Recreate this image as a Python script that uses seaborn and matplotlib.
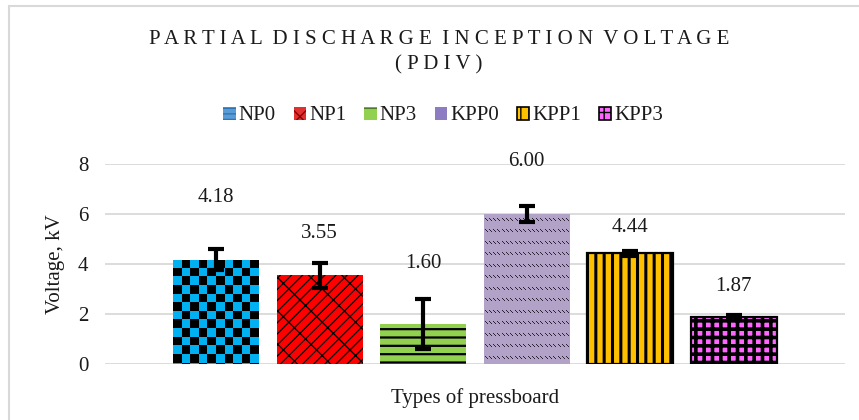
import numpy as np
import pandas as pd
import matplotlib
matplotlib.use('Agg')
import matplotlib.pyplot as plt
import seaborn as sns
from matplotlib.colors import ListedColormap, to_rgba
from matplotlib.patches import Patch, Rectangle

# ─── Data ─────────────────────────────────────────────────────────────────────
series   = ['NP0', 'NP1', 'NP3', 'KPP0', 'KPP1', 'KPP3']
pdiv_kv  = [4.18, 3.55, 1.60, 6.00, 4.44, 1.87]
pdiv_err = [0.43, 0.50, 1.00, 0.33, 0.10, 0.10]

# ─── Style ────────────────────────────────────────────────────────────────────
colors   = ['#00B0F0', '#FF0000', '#92D050', '#B3A2C7', '#FFC000', '#FF66FF']
hatches  = [None, '///\\', '--', None, '||', '++']
hatch_lw = [1.0, 0.9, 1.6, 0.8, 2.2, 2.6]
hatch_c  = ['black', 'black', 'black', 'black', 'black', 'black']
outline  = [0, 0, 0, 0, 1.6, 1.6]
label_off_px = [62, 42, 61, 52, 26, 31]
FS = 15

sns.set_theme(style='white')
plt.rcParams['font.family'] = ['Liberation Serif', 'DejaVu Serif']
plt.rcParams['hatch.linewidth'] = 1.0

df = pd.DataFrame({'series': series, 'kv': pdiv_kv})

fig = plt.figure(figsize=(8.59, 4.2), dpi=100)
ax = fig.add_axes([105/859, 1-364/420, 740/859, 200/420])

sns.barplot(data=df, x='series', y='kv', hue='series', order=series,
            palette=colors, saturation=1, width=0.83, legend=False, ax=ax)

for p, h, hl, hc, ol in zip(ax.patches, hatches, hatch_lw, hatch_c, outline):
    p.set_edgecolor(hc)
    p.set_linewidth(ol)
    if h:
        p.set_hatch(h)
        if hasattr(p, 'set_hatch_linewidth'):
            p.set_hatch_linewidth(hl)

px_per_unit = 25.0  # 200 px for 8 kV

# checkerboard texture for NP0
p0 = ax.patches[0]
x0, w, h0 = p0.get_x(), p0.get_width(), p0.get_height()
cell_h = 8.6 / px_per_unit
nrows = int(np.ceil(h0 / cell_h)) + 1
ii, jj = np.indices((nrows, 10))
checker = (ii + jj) % 2
img = ax.imshow(checker, cmap=ListedColormap(['#00B0F0', 'black']),
                extent=(x0, x0 + w, h0 - nrows * cell_h, h0), origin='upper',
                aspect='auto', interpolation='nearest', zorder=p0.get_zorder() + 0.1)
img.set_clip_path(p0)

# small dashed-diagonal texture for KPP0
p3 = ax.patches[3]
x3, w3, h3 = p3.get_x(), p3.get_width(), p3.get_height()
W, H = 86, int(round(h3 * px_per_unit))
tex = np.zeros((H, W, 4))
dark = to_rgba('#2B2235')
for r in np.arange(4, H - 3, 11.5).astype(int):
    for c in np.arange(1, W - 3, 4.3).astype(int):
        for d in range(3):
            tex[r + d, c + d] = dark
img3 = ax.imshow(tex, extent=(x3, x3 + w3, 0, h3), origin='upper', aspect='auto',
                 interpolation='nearest', zorder=p3.get_zorder() + 0.1)
img3.set_clip_path(p3)

centers = [p.get_x() + p.get_width() / 2 for p in ax.patches]
ax.errorbar(centers, pdiv_kv, yerr=pdiv_err, fmt='none', ecolor='black',
            elinewidth=3, capsize=6, capthick=3, zorder=5)

for x, v, off in zip(centers, pdiv_kv, label_off_px):
    ax.annotate(f'{v:.2f}', (x, v), xytext=(0, off * 0.72), textcoords='offset points',
                ha='center', va='center', fontsize=FS, color='#1a1a1a')

ax.set_xlim(-1.075, 6.075)
ax.set_ylim(0, 8)
ax.set_yticks([0, 2, 4, 6, 8])
ax.set_xticks([])
ax.yaxis.grid(True, color='#D9D9D9', lw=1.3)
ax.set_axisbelow(True)
sns.despine(ax=ax, left=True, bottom=True)
ax.tick_params(axis='y', length=0, pad=12, labelsize=FS, labelcolor='#1a1a1a')
ax.set_ylabel('Voltage, kV', fontsize=FS, color='#1a1a1a')
ax.yaxis.set_label_coords(-0.054, 0.5)
ax.set_xlabel('Types of pressboard', fontsize=FS, color='#1a1a1a', labelpad=17)

title = '  '.join(' '.join(word) for word in 'PARTIAL DISCHARGE INCEPTION VOLTAGE'.split())
fig.text(0.511, 1 - 40/420, title, ha='center', va='center', fontsize=FS, color='#1a1a1a')
fig.text(0.511, 1 - 65/420, ' '.join('(PDIV)'), ha='center', va='center', fontsize=FS,
         color='#1a1a1a')

# legend proxies (as the reference renders them)
handles = [
    Patch(facecolor='#5B9BD5', edgecolor='#2E75B6', hatch='---', lw=0),
    Patch(facecolor='#E03030', edgecolor='#8B0000', hatch='xx', lw=0),
    Patch(facecolor='#92D050', edgecolor='#4F7A28', hatch='-', lw=0),
    Patch(facecolor='#8E7CC3', edgecolor='#8E7CC3', lw=0),
    Patch(facecolor='#FFC000', edgecolor='black', hatch='||', lw=1.2),
    Patch(facecolor='#FF66FF', edgecolor='black', hatch='++', lw=1.2),
]
fig.legend(handles, series, loc='center', bbox_to_anchor=(0.516, 1 - 116/420), ncol=6,
           frameon=False, fontsize=FS, handlelength=0.6, handleheight=0.6,
           handletextpad=0.15, columnspacing=0.85, labelcolor='#1a1a1a')

fig.patches.append(Rectangle((9/859, -0.1), 1.2, (1 - 6/420) + 0.1,
                             transform=fig.transFigure, fill=False,
                             edgecolor='#D9D9D9', lw=1.5))

fig.savefig('out.png', dpi=100)
